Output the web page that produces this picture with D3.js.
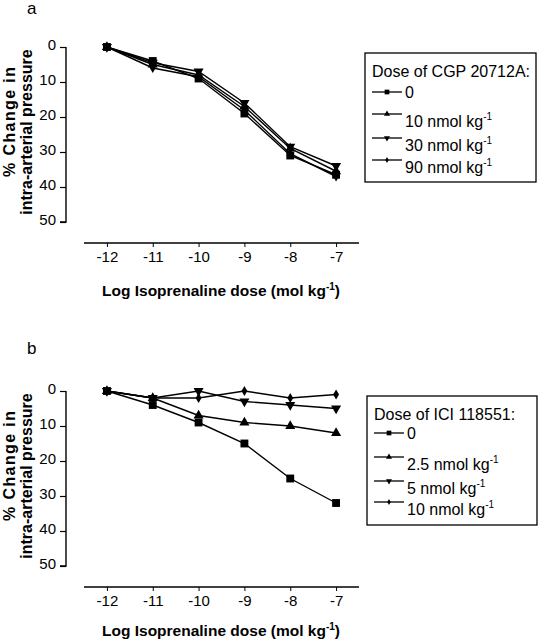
<!DOCTYPE html>
<html><head><meta charset="utf-8">
<script src="https://cdn.jsdelivr.net/npm/d3@7"></script>
<style>
body{margin:0;background:#fff}
svg{display:block}
text{font-family:"Liberation Sans",Arial,sans-serif;fill:#000}
</style>
</head><body><svg id="c" width="538" height="640"></svg>
<script>
// ---- data ----
const doses = [-12, -11, -10, -9, -8, -7];
const xTicks = [-12, -11, -10, -9, -8, -7];
const yTicks = [0, 10, 20, 30, 40, 50];

const cgpTitle = "Dose of CGP 20712A:";
const cgpLabels = ["0", "10 nmol kg", "30 nmol kg", "90 nmol kg"];
const cgpSup = [false, true, true, true];
const cgp0 = [0, 4, 9, 19, 31, 36.5];
const cgp10 = [0, 5, 8, 17, 29, 35.5];
const cgp30 = [0, 4.5, 7, 16, 28.5, 34];
const cgp90 = [0, 6, 8.5, 18, 30.5, 37];

const iciTitle = "Dose of ICI 118551:";
const iciLabels = ["0", "2.5 nmol kg", "5 nmol kg", "10 nmol kg"];
const iciSup = [false, true, true, true];
const ici0 = [0, 4, 9, 15, 25, 32];
const ici25 = [0, 2, 7, 9, 10, 12];
const ici5 = [0, 2, 0, 3, 4, 5];
const ici10 = [0, 2, 2, 0, 2, 1];

const markerTypes = ["square", "triUp", "triDown", "diamond"];

// ---- drawing ----
const svg = d3.select("#c");

function symPath(type, scale) {
  const s = scale || 1;
  if (type === "square") return d3.symbol(d3.symbolSquare, 62 * s * s)();
  if (type === "triUp") return d3.symbol(d3.symbolTriangle, 44 * s * s)();
  if (type === "triDown") return d3.symbol(d3.symbolTriangle, 44 * s * s)();
  return d3.symbol(d3.symbolDiamond, 30 * s * s)();
}
function symRot(type) { return type === "triDown" ? " rotate(180)" : ""; }

function drawPanel(opt) {
  const g = svg.append("g");
  const x = d3.scaleLinear().domain([-12.5, -6.5]).range([84, 359]);
  const y = d3.scaleLinear().domain([0, 50]).range([opt.top, opt.top + 175]);

  // panel letter
  g.append("text").attr("x", 27).attr("y", opt.letterY)
    .style("font-size", "17px").text(opt.letter);

  // y axis
  const ya = g.append("g").attr("transform", "translate(66,0)")
    .call(d3.axisLeft(y).tickValues(yTicks).tickSize(6).tickPadding(4).tickFormat(d3.format("d")));
  ya.select(".domain").attr("d", `M0,${y(0)}V${y(50)}H-6`).attr("stroke-width", 1.4);
  ya.selectAll(".tick line").attr("stroke-width", 1.2);
  ya.selectAll("text").style("font-size", "15px").style("font-family", "'Liberation Sans',Arial,sans-serif")
    .attr("y", -2);

  // x axis
  const xaY = opt.top + 196;
  const xa = g.append("g").attr("transform", `translate(0,${xaY})`)
    .call(d3.axisBottom(x).tickValues(xTicks).tickSize(4).tickPadding(4).tickFormat(d3.format("d")));
  xa.select(".domain").attr("d", `M${x(-12.5)},0H${x(-6.5)}`).attr("stroke-width", 1.6);
  xa.selectAll(".tick line").attr("stroke-width", 1);
  xa.selectAll("text").style("font-size", "15px").style("font-family", "'Liberation Sans',Arial,sans-serif")
    .text(d => "-" + Math.abs(d));

  // x title
  const xt = g.append("text").attr("x", 221).attr("y", xaY + opt.xTitleOff).attr("text-anchor", "middle")
    .style("font-size", "15.5px").style("font-weight", "bold");
  xt.append("tspan").text("Log Isoprenaline dose (mol kg");
  xt.append("tspan").attr("dy", "-6").style("font-size", "10px").text("-1");
  xt.append("tspan").attr("dy", "6").text(")");

  // y title
  g.append("text").attr("transform", `translate(15,${y(0) + 75}) rotate(-90)`).attr("text-anchor", "middle")
    .attr("textLength", 110).attr("lengthAdjust", "spacing")
    .style("font-size", "16px").style("font-weight", "bold").text("% Change in");
  g.append("text").attr("transform", `translate(32,${y(0) + 85}) rotate(-90)`).attr("text-anchor", "middle")
    .style("font-size", "16px").style("font-weight", "bold").text("intra-arterial pressure");

  // series
  const line = d3.line().x((d, i) => x(doses[i])).y(d => y(d));
  opt.series.forEach((s, k) => {
    g.append("path").datum(s).attr("d", line).attr("fill", "none")
      .attr("stroke", "#000").attr("stroke-width", 1.4);
  });
  opt.series.forEach((s, k) => {
    const t = markerTypes[k];
    g.selectAll(null).data(s).enter().append("path")
      .attr("d", symPath(t, 1))
      .attr("transform", (d, i) => `translate(${x(doses[i])},${y(d)})` + symRot(t))
      .attr("fill", "#000");
  });

  // legend
  const L = opt.legend;
  g.append("rect").attr("x", L.x).attr("y", L.y).attr("width", L.w).attr("height", L.h)
    .attr("fill", "none").attr("stroke", "#000").attr("stroke-width", 1.3);
  g.append("text").attr("x", L.x + 7).attr("y", L.y + 24).style("font-size", "16px").text(opt.title);
  opt.labels.forEach((lab, k) => {
    const ly = L.y + L.rows[k];
    g.append("line").attr("x1", L.x + 7).attr("x2", L.x + 37).attr("y1", ly).attr("y2", ly)
      .attr("stroke", "#000").attr("stroke-width", 1.3);
    const t = markerTypes[k];
    g.append("path").attr("d", symPath(t, 0.6)).attr("transform", `translate(${L.x + 22},${ly})` + symRot(t))
      .attr("fill", "#000");
    const tx = g.append("text").attr("x", L.x + 40).attr("y", ly + (opt.sup[k] ? 13 : 6))
      .style("font-size", "16px");
    tx.append("tspan").text(lab);
    if (opt.sup[k]) {
      tx.append("tspan").attr("dy", "-7").style("font-size", "10px").text("-1");
    }
  });
}

drawPanel({
  top: 47, letter: "a", letterY: 14, xTitleOff: 53,
  series: [cgp0, cgp10, cgp30, cgp90],
  title: cgpTitle, labels: cgpLabels, sup: cgpSup,
  legend: {x: 365, y: 53, w: 171, h: 129, rows: [39, 61, 85, 107]}
});
drawPanel({
  top: 391, letter: "b", letterY: 354, xTitleOff: 49,
  series: [ici0, ici25, ici5, ici10],
  title: iciTitle, labels: iciLabels, sup: iciSup,
  legend: {x: 367, y: 396, w: 170, h: 129, rows: [37, 61, 85, 106]}
});
</script>
</body></html>
